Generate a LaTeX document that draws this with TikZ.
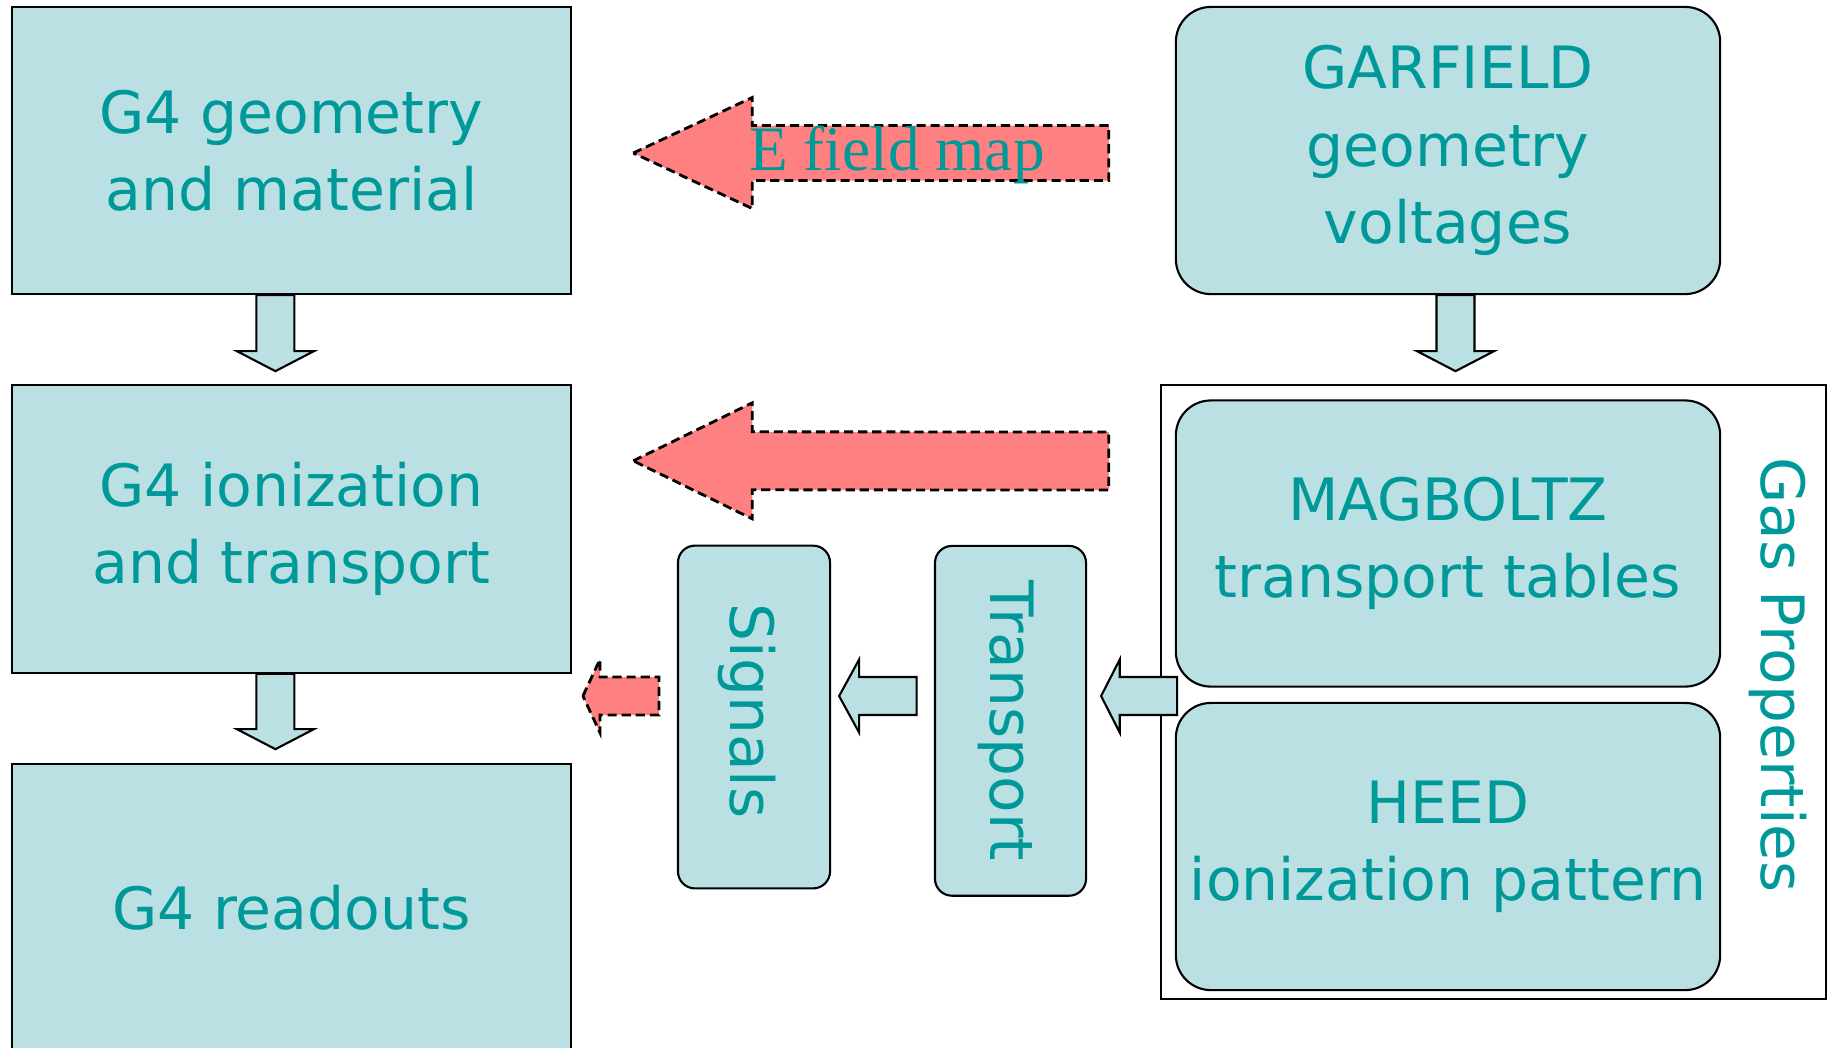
\documentclass[tikz,border=0pt]{standalone}
\usepackage{fontspec}
\setmainfont{DejaVu Sans}
\newfontfamily\mapfont{Liberation Serif}
\usepackage{tikz}
\usetikzlibrary{calc}

\definecolor{boxfill}{RGB}{187,224,227}
\definecolor{labeltext}{RGB}{0,153,153}
\definecolor{fieldred}{RGB}{255,128,128}

\tikzset{
  block/.style={draw=black, line width=0.6pt, fill=boxfill, text=labeltext,
    inner sep=0pt, align=center, font=\fontsize{16.6}{22}\selectfont},
  roundblock/.style={block, rounded corners=0.35cm},
  slimblock/.style={block, rounded corners=0.17cm},
  sidetext/.style={text=labeltext, rotate=-90, font=\fontsize{17}{22}\selectfont},
  bluearrow/.style={draw=black, line width=0.6pt, fill=boxfill},
  redarrow/.style={draw=black, line width=0.8pt, dash pattern=on 2.6pt off 1.4pt, fill=fieldred},
}

% block arrow pointing left: style, tip, tail, shaft half, head half, head length
\newcommand{\fatleft}[6]{%
  \filldraw[#1] (#2) -- ($(#2)+(#6,-#5)$) -- ($(#2)+(#6,-#4)$) -- ($(#3)+(0,-#4)$)
    -- ($(#3)+(0,#4)$) -- ($(#2)+(#6,#4)$) -- ($(#2)+(#6,#5)$) -- cycle;}
% block arrow pointing down: style, top, tip, shaft half, head half, head length
\newcommand{\fatdown}[6]{%
  \filldraw[#1] (#3) -- ($(#3)+(-#5,-#6)$) -- ($(#3)+(-#4,-#6)$) -- ($(#2)+(-#4,0)$)
    -- ($(#2)+(#4,0)$) -- ($(#3)+(#4,-#6)$) -- ($(#3)+(#5,-#6)$) -- cycle;}

\begin{document}
\begin{tikzpicture}[x=0.01cm, y=-0.01cm]
  \useasboundingbox (0,0) rectangle (1831,1047);
  % Geant4 side
  \node[block, minimum width=5.593cm, minimum height=2.87cm] (geo) at (291.4,150.5) {G4 geometry\\and material};
  \node[block, minimum width=5.593cm, minimum height=2.876cm] (ion) at (291.4,528.8) {G4 ionization\\and transport};
  \node[block, minimum width=5.593cm, minimum height=2.87cm] (readout) at (291.4,907.5) {G4 readouts};
  % Garfield side
  \node[roundblock, minimum width=5.44cm, minimum height=2.87cm] (garfield) at (1448,150.5) {GARFIELD\\geometry\\voltages};
  \node[draw=black, line width=0.6pt, fill=white, minimum width=6.65cm, minimum height=6.14cm] (gas) at (1493.5,692) {};
  \node[roundblock, minimum width=5.44cm, minimum height=2.86cm] (magboltz) at (1448,543.5) {MAGBOLTZ\\transport tables};
  \node[roundblock, minimum width=5.44cm, minimum height=2.87cm] (heed) at (1448,846.5) {HEED\\ionization pattern};
  \node[sidetext] (gaslabel) at ($(gas.east)+(-49,-17)$) {Gas Properties};
  % middle
  \node[slimblock, minimum width=1.52cm, minimum height=3.426cm] (signals) at (754,717) {};
  \node[sidetext] (signalstext) at ($(signals)+(-7,-6)$) {Signals};
  \node[slimblock, minimum width=1.51cm, minimum height=3.496cm] (transport) at (1010.5,720.8) {};
  \node[sidetext] (transporttext) at ($(transport)+(-4,0)$) {Transport};
  % Pfeile nach unten
  \fatdown{bluearrow}{$(geo.south)+(-16,0)$}{$(geo.south)+(-16,76)$}{19}{38.5}{20}
  \fatdown{bluearrow}{$(ion.south)+(-16,0)$}{$(ion.south)+(-16,75.4)$}{19}{38.5}{20}
  \fatdown{bluearrow}{$(garfield.south)+(7.5,0)$}{$(garfield.south)+(7.5,76)$}{19}{38.5}{20}
  % Feld und Signale
  \fatleft{redarrow}{$(geo.east)+(61,2.5)$}{$(garfield.west)+(-66,2.5)$}{27.5}{55.5}{119}
  \fatleft{redarrow}{$(ion.east)+(61,-68)$}{$(magboltz.west)+(-66,-82.5)$}{29}{58}{119}
  \fatleft{redarrow}{$(signals.west)+(-94,-21)$}{$(signals.west)+(-18,-21)$}{19}{36.5}{17}
  \fatleft{bluearrow}{$(signals.east)+(8,-21)$}{$(signals.east)+(85.5,-21)$}{19}{36.5}{20}
  \fatleft{bluearrow}{$(transport.east)+(14,-24.8)$}{$(transport.east)+(90,-24.8)$}{19}{36.5}{18.6}
  \node[text=labeltext, font=\mapfont\fontsize{18}{20}\selectfont] (fieldlabel) at (897,155) {E field map};
\end{tikzpicture}
\end{document}
